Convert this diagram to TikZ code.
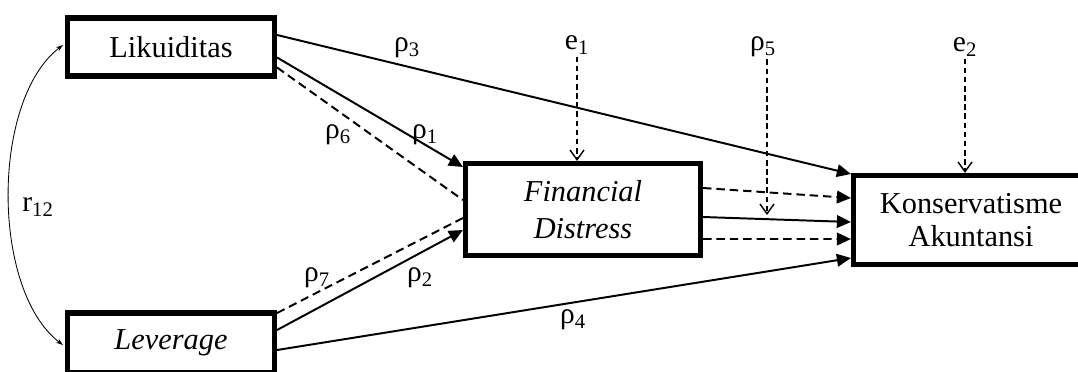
\documentclass[tikz,border=0pt]{standalone}
\usepackage{fontspec}
\setmainfont{Liberation Serif}
\usetikzlibrary{calc,arrows.meta}

\begin{document}
\begin{tikzpicture}[x=0.025cm,y=-0.025cm,line width=1.4pt,
  caja/.style={draw,line width=3.6pt,inner sep=0pt,align=center,font=\fontsize{21.6}{23.5}\selectfont},
  etq/.style={inner sep=1pt,font=\fontsize{21}{24}\selectfont},
  fl/.style={-{Triangle[length=10pt,width=9pt]}},
  rayas/.style={dash pattern=on 6pt off 3.5pt},
  err/.style={line width=1pt,dash pattern=on 4pt off 2.5pt,-{Straight Barb[length=7pt,width=10pt]}}]
  \useasboundingbox (0,0) rectangle (1078,371);
  % cajas
  \node[caja,minimum width=5.175cm,minimum height=1.45cm] (lik) at (171,47) {Likuiditas};
  \node[caja,minimum width=5.175cm,minimum height=1.5cm] (lev) at (171,343) {\itshape Leverage};
  \node[caja,minimum width=5.875cm,minimum height=2.3cm,font=\fontsize{21.6}{26}\selectfont\itshape] (fd) at (583,209.5) {Financial\\Distress};
  \node[caja,minimum width=5.875cm,minimum height=2.225cm] (kon) at (971,220) {Konservatisme\\Akuntansi};
  % etiquetas
  \node[etq] (p1) at (425,135) {ρ\textsubscript{1}};
  \node[etq] (p2) at (420,278) {ρ\textsubscript{2}};
  \node[etq] (p3) at (407,48) {ρ\textsubscript{3}};
  \node[etq] (p4) at (573,320) {ρ\textsubscript{4}};
  \node[etq] (p5) at (763,47) {ρ\textsubscript{5}};
  \node[etq] (p6) at (338,135) {ρ\textsubscript{6}};
  \node[etq] (p7) at (317,278) {ρ\textsubscript{7}};
  \node[etq] (e1) at (577,45) {e\textsubscript{1}};
  \node[etq] (e2) at (965,47) {e\textsubscript{2}};
  \node[etq] (r12) at (38,207) {r\textsubscript{12}};
  % caminos directos
  \draw[fl] ($(lik.east)+(0,-12)$) -- ($(kon.west)+(0,-46)$);
  \draw[fl] ($(lik.east)+(0,10.5)$) -- ($(fd.west)+(0,-42.5)$);
  \draw[rayas] ($(lik.east)+(0,20.5)$) -- ($(fd.west)+(0,-9.5)$);
  \draw[rayas] ($(lev.east)+(0,-30)$) -- ($(fd.west)+(0,8.5)$);
  \draw[fl] ($(lev.east)+(0,-13)$) -- ($(fd.west)+(0,20.5)$);
  \draw[fl] ($(lev.east)+(0,7)$) -- ($(kon.west)+(0,38)$);
  % de Financial Distress a Konservatisme
  \draw[fl,rayas] ($(fd.east)+(0,-21.5)$) -- ($(kon.west)+(0,-22)$);
  \draw[fl] ($(fd.east)+(0,7.5)$) -- ($(kon.west)+(0,2)$);
  \draw[fl,rayas] ($(fd.east)+(0,29.5)$) -- ($(kon.west)+(0,19)$);
  % errores y moderacion
  \coordinate (p5fin) at (767,215);
  \draw[err] (e1.south) -- (e1.south |- fd.north);
  \draw[err] (p5.south -| p5fin) -- (p5fin);
  \draw[err] (e2.south) -- (e2.south |- kon.north);
  % correlacion r12
  \draw[line width=0.6pt,{Stealth[length=5pt,width=3.5pt]}-{Stealth[length=5pt,width=3.5pt]}]
    ($(lik.west)+(-2,-2)$) .. controls +(-72,55) and +(-72,-55) .. ($(lev.west)+(-2,2)$);
\end{tikzpicture}
\end{document}
